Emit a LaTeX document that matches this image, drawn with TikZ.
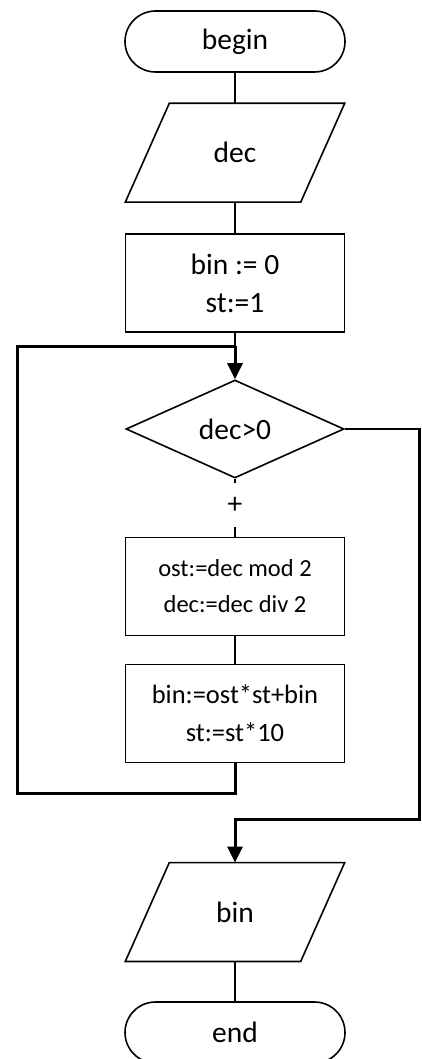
\documentclass[tikz,border=0pt]{standalone}
\usepackage{fontspec}
\setmainfont{Carlito}
\usetikzlibrary{shapes.geometric,arrows.meta}
\begin{document}
\begin{tikzpicture}[x=1pt,y=-1pt,
  thinline/.style={line width=1.6pt,draw=black},
  thickline/.style={line width=3pt,draw=black,line join=miter},
  arr/.style={-{Triangle[width=15pt,length=16pt]}},
  txt/.style={font=\fontsize{29.5}{38}\selectfont,align=center,inner sep=0pt},
  term/.style={txt,draw,line width=1.6pt,rectangle,rounded corners=30.5pt,minimum width=220pt,minimum height=61pt},
  procbox/.style={txt,draw,line width=1.7pt,rectangle,minimum width=219pt,minimum height=98pt},
  iobox/.style={txt,rectangle,minimum width=219pt,minimum height=98.5pt},
  decide/.style={txt,draw,line width=1.6pt,diamond,minimum width=218pt,minimum height=98pt,aspect=2.22}
]
\useasboundingbox (0,0) rectangle (421,1059);
\fill[white] (0,0) rectangle (421,1059);

\node[term] (begin) at (235,41.5) {begin};
\node[iobox] (dec) at (235,152.75) {dec};
\draw[line width=1.6pt] ([xshift=44pt]dec.north west) -- (dec.north east) -- ([xshift=-44pt]dec.south east) -- (dec.south west) -- cycle;
\node[procbox] (init) at (235,283) {bin := 0\\st:=1};
\node[decide] (cond) at (235,429) {dec>0};
\node[inner sep=0pt,minimum height=44pt,font=\fontsize{29.5}{38}\selectfont] (plus) at (235,505) {+};
\node[procbox,font=\fontsize{24.5}{36}\selectfont] (body1) at (235,586.5) {ost:=dec mod 2\\dec:=dec div 2};
\node[procbox,font=\fontsize{26.5}{38}\selectfont] (body2) at (235,713.5) {bin:=ost*st+bin\\st:=st*10};
\node[iobox] (out) at (235,912) {bin};
\draw[line width=1.6pt] ([xshift=44pt]out.north west) -- (out.north east) -- ([xshift=-44pt]out.south east) -- (out.south west) -- cycle;
\node[term] (end) at (235,1032.5) {end};

\coordinate (join) at (235,346);
\coordinate (loopA) at (235,793);
\coordinate (loopB) at (17,793);
\coordinate (loopC) at (17,346);
\coordinate (exitA) at (419,429);
\coordinate (exitB) at (419,819);
\coordinate (exitC) at (235,819);

\draw[thinline] (begin.south) -- (dec.north);
\draw[thinline] (dec.south) -- (init.north);
\draw[thinline] (init.south) -- (join);
\draw[thickline,arr] (join) -- (cond.north);
\draw[thinline] (cond.south) -- (plus.north);
\draw[thinline] (plus.south) -- (body1.north);
\draw[thinline] (body1.south) -- (body2.north);
\draw[thickline] (body2.south) -- (loopA) -- (loopB) -- (loopC) -- (join);
\draw[thinline] (cond.east) -- (exitA);
\draw[thickline,arr] ([yshift=0.8pt]exitA) -- (exitB) -- (exitC) -- (out.north);
\draw[thinline] (out.south) -- (end.north);
\end{tikzpicture}
\end{document}
